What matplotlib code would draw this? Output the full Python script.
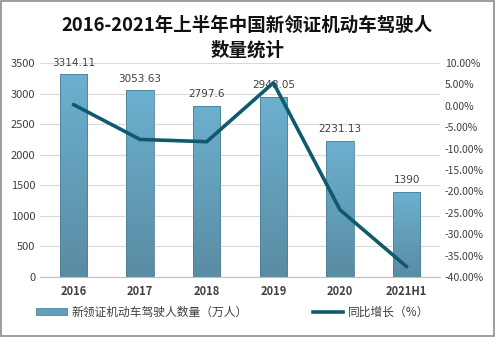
import matplotlib
matplotlib.use("Agg")
import matplotlib.pyplot as plt
import numpy as np
from matplotlib.lines import Line2D
from matplotlib.patches import Patch, Rectangle

plt.rcParams["font.family"] = ["Noto Sans CJK SC", "DejaVu Sans"]

years = ["2016", "2017", "2018", "2019", "2020", "2021H1"]
drivers = [3314.11, 3053.63, 2797.6, 2948.05, 2231.13, 1390]
driver_labels = ["3314.11", "3053.63", "2797.6", "2948.05", "2231.13", "1390"]
growth = [0.3, -7.86, -8.38, 5.38, -24.32, -37.6]

title_lines = ["2016-2021年上半年中国新领证机动车驾驶人", "数量统计"]
bar_name = "新领证机动车驾驶人数量（万人）"
line_name = "同比增长（%）"

TEXT = "#404040"
LINE = "#0f5a6e"

fig = plt.figure(figsize=(4.95, 3.37), dpi=100)
ax = fig.add_axes([0.081, 0.178, 0.808, 0.635])
ax2 = ax.twinx()

x = np.arange(len(years))
width = 0.41

# vertical gradient bars (light top, darker bottom)
grad = np.linspace(0, 1, 256).reshape(-1, 1)
cmap = matplotlib.colors.LinearSegmentedColormap.from_list("bar", ["#5a8ca3", "#6cb0cf"])
bars = ax.bar(x, drivers, width, color="none", edgecolor="#4d8198", linewidth=0.6, zorder=2)
for b in bars:
    x0, y0 = b.get_x(), b.get_y()
    img = ax.imshow(grad, cmap=cmap, origin="lower", aspect="auto",
                    extent=[x0, x0 + b.get_width(), y0, y0 + b.get_height()], zorder=1.9)
    img.set_clip_path(b)

for xi, v, lab in zip(x, drivers, driver_labels):
    ax.text(xi, v + 110, lab, ha="center", va="bottom", fontsize=7.5, color=TEXT,
            fontfamily="DejaVu Sans", zorder=5)

ax.set_xlim(-0.5, len(years) - 0.5)
ax.set_ylim(0, 3500)
ax.set_yticks(np.arange(0, 3501, 500))
ax.set_xticks(x)
ax.set_xticklabels(years, fontweight="bold", fontsize=8, color="#262626")
ax.grid(axis="y", color="#d9d9d9", linewidth=0.8, zorder=0)
ax.set_axisbelow(True)
ax.tick_params(length=0, labelsize=8, colors=TEXT)
ax.tick_params(axis="x", pad=6)
for s in ["top", "left", "right"]:
    ax.spines[s].set_visible(False)
    ax2.spines[s].set_visible(False)
ax.spines["bottom"].set_color("#bfbfbf")
ax2.spines["bottom"].set_visible(False)

ax2.plot(x, growth, color=LINE, linewidth=2.6, solid_capstyle="round", zorder=4)
ax2.set_ylim(-40, 10)
ax2.set_yticks(np.arange(-40, 10.1, 5))
ax2.set_yticklabels([f"{v:.2f}%" for v in np.arange(-40, 10.1, 5)])
ax2.tick_params(length=0, labelsize=7.5, colors=TEXT)

fig.text(0.5, 0.925, title_lines[0], ha="center", va="center", fontsize=13.3,
         fontweight="bold", color="#111111")
fig.text(0.5, 0.852, title_lines[1], ha="center", va="center", fontsize=13.3,
         fontweight="bold", color="#111111")

handles = [Patch(facecolor="#64a0bb", edgecolor="#4d8198", linewidth=0.6),
           Line2D([0], [0], color=LINE, linewidth=2.6)]
fig.legend(handles, [bar_name, line_name], loc="center", bbox_to_anchor=(0.47, 0.073),
           ncol=2, frameon=False, fontsize=8.5, labelcolor=TEXT, handlelength=2.6,
           handleheight=0.6, columnspacing=5.5, handletextpad=0.4)

fig.patches.append(Rectangle((0.002, 0.003), 0.996, 0.994, transform=fig.transFigure,
                             fill=False, edgecolor="#8c8c8c", linewidth=1.2))

fig.savefig("out.png", dpi=100)
